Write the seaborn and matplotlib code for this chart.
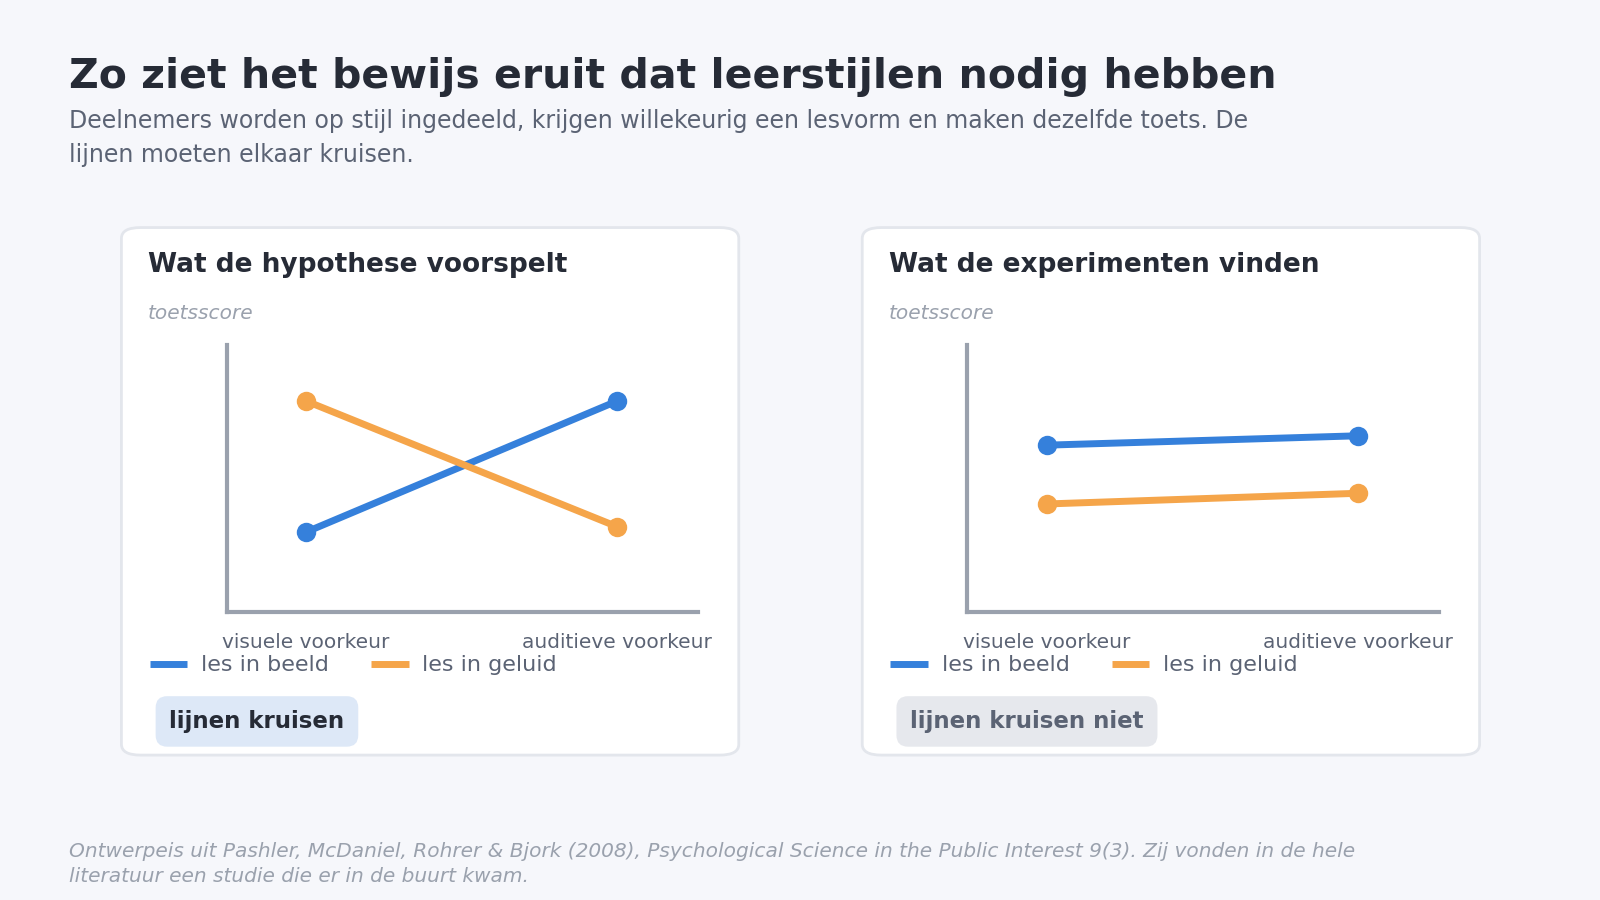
import matplotlib
matplotlib.use("Agg")
import matplotlib.pyplot as plt
import seaborn as sns
import pandas as pd
from matplotlib.patches import FancyBboxPatch
from matplotlib.lines import Line2D

sns.set_theme(style="white")
plt.rcParams['font.family'] = ['DejaVu Sans']

categories = ["visuele voorkeur", "auditieve voorkeur"]
series = ["les in beeld", "les in geluid"]
colors = ["#3580db", "#f5a54a"]
pred_beeld = [30, 79]
pred_geluid = [79, 32]
found_beeld = [62.5, 66]
found_geluid = [40.5, 44.5]

W, H = 1568, 882
fig = plt.figure(figsize=(16, 9), dpi=100)
fig.patch.set_facecolor("#f6f7fb")
fx = lambda x: x / W
fy = lambda y: 1 - y / H

fig.text(fx(68), fy(75), "Zo ziet het bewijs eruit dat leerstijlen nodig hebben",
         fontsize=29.5, fontweight="bold", color="#262b36", va="center")
fig.text(fx(68), fy(135), "Deelnemers worden op stijl ingedeeld, krijgen willekeurig een lesvorm en maken dezelfde toets. De\nlijnen moeten elkaar kruisen.",
         fontsize=17, color="#5b6374", va="center", linespacing=1.5)
fig.text(fx(68), fy(847), "Ontwerpeis uit Pashler, McDaniel, Rohrer & Bjork (2008), Psychological Science in the Public Interest 9(3). Zij vonden in de hele\nliteratuur een studie die er in de buurt kwam.",
         fontsize=14.5, color="#9aa1ad", style="italic", va="center", linespacing=1.4)

panels = [
    (119, "Wat de hypothese voorspelt", pred_beeld, pred_geluid, "lijnen kruisen", "#dde8f7", "#262b36"),
    (845, "Wat de experimenten vinden", found_beeld, found_geluid, "lijnen kruisen niet", "#e6e8ed", "#5b6374"),
]

for x0, title, b, g, badge, bcol, tcol in panels:
    card = FancyBboxPatch((fx(x0), fy(740)), fx(605), (740 - 223) / H,
                          boxstyle="round,pad=0,rounding_size=0.012",
                          transform=fig.transFigure, facecolor="white",
                          edgecolor="#e3e6ec", linewidth=2, zorder=-5)
    fig.patches.append(card)
    fig.text(fx(x0 + 26), fy(260), title, fontsize=19, fontweight="bold", color="#262b36", va="center")
    fig.text(fx(x0 + 26), fy(307), "toetsscore", fontsize=14.5, style="italic", color="#9aa1ad", va="center")

    ax = fig.add_axes([fx(x0 + 103), fy(600), fx(462), 262 / H])
    ax.set_zorder(2)
    ax.set_facecolor("none")
    df = pd.DataFrame({
        "x": [0, 1, 0, 1],
        "score": b + g,
        "les": [series[0]] * 2 + [series[1]] * 2,
    })
    sns.lineplot(data=df, x="x", y="score", hue="les", palette=colors, marker="o",
                 markersize=14, markeredgewidth=0, linewidth=5, ax=ax, legend=False)
    ax.set_xlim(-0.256, 1.26)
    ax.set_ylim(0, 100)
    ax.set_xticks([0, 1])
    ax.set_xticklabels(categories, fontsize=14.5, color="#5b6374")
    ax.set_yticks([])
    ax.set_xlabel("")
    ax.set_ylabel("")
    ax.tick_params(axis="x", length=0, pad=15)
    for s in ["top", "right"]:
        ax.spines[s].set_visible(False)
    for s in ["left", "bottom"]:
        ax.spines[s].set_color("#9aa1ad")
        ax.spines[s].set_linewidth(3)

    handles = [Line2D([0], [0], color=c, linewidth=5, solid_capstyle="butt") for c in colors]
    leg = fig.legend(handles, series, loc="center left",
                     bbox_to_anchor=(fx(x0 + 8), fy(652)), ncol=2, frameon=False,
                     fontsize=16, handlelength=1.7, columnspacing=1.9, handletextpad=0.6)
    for t in leg.get_texts():
        t.set_color("#5b6374")

    fig.text(fx(x0 + 47), fy(707), badge, fontsize=16.5, fontweight="bold", color=tcol, va="center",
             bbox=dict(boxstyle="round,pad=0.6,rounding_size=0.5", facecolor=bcol, edgecolor="none"))

fig.savefig("out.png", dpi=100, facecolor=fig.get_facecolor())
